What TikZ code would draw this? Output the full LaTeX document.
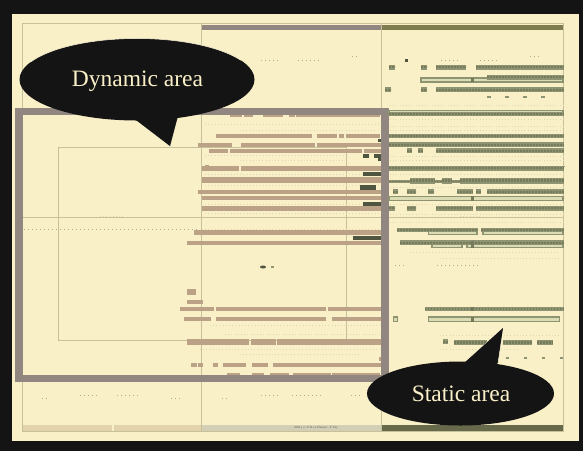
\documentclass[tikz,border=0pt]{standalone}
\usepackage{fontspec}
\setmainfont{Liberation Serif}
\definecolor{ink}{HTML}{141414}
\definecolor{paper}{HTML}{FAF0C8}
\definecolor{hair}{HTML}{C6C19B}
\definecolor{mauve}{HTML}{918680}
\definecolor{tanbar}{HTML}{BBA287}
\definecolor{gbar}{HTML}{8E9372}
\definecolor{gdark}{HTML}{747A5A}
\definecolor{gblob}{HTML}{4F5540}
\definecolor{glight}{HTML}{DCDCB4}
\definecolor{faint}{HTML}{DDD8B4}
\definecolor{oliveband}{HTML}{7F7D4F}
\definecolor{tanfoot}{HTML}{E3D3AD}
\definecolor{greyfoot}{HTML}{D3CFB5}
\definecolor{darkfoot}{HTML}{66694A}
\tikzset{
  x=1pt,y=-1pt,
  hairline/.style={draw=hair,line width=.8pt},
  faintdots/.style={draw=faint,line width=1pt,dash pattern=on 1pt off 2.2pt},
  faintdotsb/.style={draw=faint!80!black,line width=1pt,dash pattern=on 1pt off 3pt},
  bubble/.style={fill=ink,draw=paper!70!white,line width=.5pt},
  bubbletext/.style={text=paper,font=\fontsize{23.5}{26}\selectfont,inner sep=0pt},
}
% tan bar: y, height, x1, x2
\newcommand{\tbar}[4]{\fill[tanbar] (#3,#1-#2/2-.2) rectangle (#4,#1+#2/2+.2);}
% textured green bar
\newcommand{\gb}[4]{\fill[gbar] (#3,#1-#2/2-.3) rectangle (#4,#1+#2/2+.3);
  \draw[gdark,line width=#2*.5pt,dash pattern=on 1.6pt off 1.4pt] (#3,#1) -- (#4,#1);}
% hollow green bar: y1, y2, x1, x2
\newcommand{\gh}[4]{\draw[gbar,fill=glight,line width=1.2pt] (#3,#1) rectangle (#4,#2);}
\newcommand{\blob}[4]{\fill[gblob] (#3,#1) rectangle (#4,#2);}
\begin{document}
\begin{tikzpicture}
\useasboundingbox (0,0) rectangle (583,451);
\fill[ink] (0,0) rectangle (583,451);
\fill[paper] (12,14) rectangle (578.5,441);
% thin frame
\draw[hairline] (22.5,23) rectangle (563,431);
\draw[hairline] (201.5,23) -- (201.5,431);
\draw[hairline] (381,23) -- (381,431);
\draw[hairline] (22.5,217) -- (563,217);
\draw[hairline] (58,147.5) rectangle (346,340.5);
% header and footer bars
\fill[mauve] (202,24.5) rectangle (381,30);
\fill[oliveband] (382,24.5) rectangle (563,30);
\fill[tanfoot] (22.5,425) rectangle (112,431);
\fill[tanfoot] (113.5,425) rectangle (201,431);
\fill[greyfoot] (202,425) rectangle (381,431);
\fill[darkfoot] (382,425) rectangle (563,431);
\node[font=\fontsize{3}{3}\selectfont,text=ink!70,inner sep=0pt,anchor=west] (foot) at (294,427.8) {2009 a u : P: B a a Pleasure . P: Pay};
% faint dot rows
\foreach \a/\b/\yy in {202/380/229.5, 390/563/105, 390/563/119, 390/563/126, 390/563/130, 390/563/156, 390/563/160, 390/563/174, 390/563/187, 390/563/204, 390/563/214, 390/563/222, 410/560/252, 440/560/258, 440/560/335, 440/520/349, 205/345/155, 240/345/160, 205/380/174, 205/380/185, 205/380/204, 205/380/213, 205/380/124, 240/380/130, 210/380/325, 225/380/334, 200/380/349, 240/360/354, 100/123/216, 460/480/216}
  {\draw[faintdots] (\a,\yy) -- (\b,\yy);}
\foreach \a/\b/\yy in {24/200/229.5, 261/280/60, 298/321/60, 352/360/56, 441/460/60, 480/500/60, 530/540/56, 42/50/398, 80/100/395, 117/141/395, 171/180/398, 222/230/398, 261/280/395, 292/321/395, 351/360/395, 437/479/265, 395/405/265}
  {\draw[faintdotsb] (\a,\yy) -- (\b,\yy);}
% tan bars, upper
\foreach \a/\b in {216/312,317/337,339/344,346/380} {\tbar{136}{4}{\a}{\b}}
\foreach \a/\b in {198/232,241/315,317/382} {\tbar{145}{4}{\a}{\b}}
\foreach \a/\b in {209/228,230/362,364/382} {\tbar{150.7}{4}{\a}{\b}}
\foreach \a/\b in {202/239,241/382} {\tbar{168.5}{4}{\a}{\b}}
\fill[tanbar] (205,165) rectangle (209,167);
\tbar{180}{6}{202}{382}
\tbar{191.7}{4}{198}{382}
\tbar{198}{4.5}{202}{382}
\tbar{208.5}{4}{202}{382}
\tbar{232.7}{5}{194}{381}
\tbar{242.7}{4}{187}{381}
\foreach \a/\b in {230/242,244/253,263/283,289/295,296/380} {\tbar{115.5}{2}{\a}{\b}}
% tan bars, lower
\tbar{292}{5}{187}{196}
\tbar{302}{4}{187}{203}
\foreach \a/\b in {180/214,216/326,328/382} {\tbar{308.7}{4}{\a}{\b}}
\foreach \a/\b in {184/211,216/326,332/382} {\tbar{319}{4.5}{\a}{\b}}
\foreach \a/\b in {187/249,251/276,277/382} {\tbar{342}{5.5}{\a}{\b}}
\foreach \a/\b in {191/197,198/203,213/218,223/246,252/268,273/382} {\tbar{365}{4}{\a}{\b}}
\foreach \a/\b in {227/240,252/264,270/289,293/331,332/380} {\tbar{374}{2.5}{\a}{\b}}
\tbar{358.7}{4}{379}{382}
% dark blobs
\blob{154}{157.5}{363}{369}
\blob{154}{158}{374}{382}
\blob{157}{161}{378}{382}
\blob{139}{142}{378}{382}
\blob{171.5}{176}{363}{382}
\blob{185}{190}{360}{376}
\blob{202}{206}{363}{382}
\blob{236}{240}{353}{381}
\fill[gblob] (263,267) ellipse (3 and 1.5);
\fill[gbar] (271,266) rectangle (274,268);
% thick dynamic frame
\draw[mauve,line width=7.5pt] (19,111.5) rectangle (385,378.5);
% right-hand rows
\foreach \a/\b in {389/395,421/427,436/466,476/563.5} {\gb{67.3}{4}{\a}{\b}}
\fill[gblob] (404.5,58.5) rectangle (408,62);
\gh{78}{82}{421}{472}
\gh{78}{82}{472}{563}
\gb{77.3}{4}{487}{563.5}
\fill[gdark] (471,77.5) rectangle (474,82);
\foreach \a/\b in {385/391,421/427,436/563.5} {\gb{89.7}{4}{\a}{\b}}
\foreach \a in {489,507,525,543} {\fill[gbar] (\a-2,95.5) rectangle (\a+2,97.5);}
\gh{110.5}{115.5}{389}{563}
\gb{114}{3.5}{389}{563.5}
\gb{136}{4}{389}{563.5}
\gb{144.7}{4}{389}{563.5}
\foreach \a/\b in {407/412,418/423,436/563.5} {\gb{150.7}{4}{\a}{\b}}
\gb{168.3}{4}{389}{563.5}
\foreach \a in {452,470,490,497,512,516,545,562} {\fill[gbar] (\a-2.5,165.5) rectangle (\a+2.5,167);}
\gb{181.5}{3}{389}{563.5}
\foreach \a/\b in {410/435,442/452,460/563.5} {\gb{180.7}{5}{\a}{\b}}
\foreach \a/\b in {393/398,407/416,428/434,457/473,476/481,487/563.5} {\gb{191.7}{4}{\a}{\b}}
\gh{196.5}{200.5}{389}{563}
\fill[gdark] (471,195.5) rectangle (474,200.5);
\foreach \a/\b in {389/395,407/416,436/473,476/563.5} {\gb{208.3}{4}{\a}{\b}}
\gh{228.5}{234.5}{428.5}{477}
\gh{228.5}{234.5}{483}{563}
\foreach \a/\b in {397/478,481/563.5} {\gb{230}{4}{\a}{\b}}
\gh{242.5}{247.5}{432}{462}
\gh{242}{247.5}{467}{563}
\gb{242.5}{4}{400}{563.5}
\fill[gdark] (471,241) rectangle (474,247.5);
\gb{309}{4}{424.7}{563.5}
\fill[gdark] (471,307) rectangle (474,311);
\gh{317}{321.5}{428.7}{559.5}
\fill[gdark] (471,316.5) rectangle (474,322);
\gh{317}{321.5}{393.5}{397.5}
\gb{341.5}{4}{443}{448}
\foreach \a/\b in {454/487,503/532,537/553} {\gb{342.5}{5}{\a}{\b}}
\foreach \a in {507,525,543,561} {\fill[gbar] (\a-1.5,357) rectangle (\a+1.5,359);}
% callouts
\draw[bubble] (135,119) -- (170,146) -- (177,118);
\fill[ink] (137,79.5) ellipse (117.5 and 41);
\draw[paper!70!white,line width=.5pt] (137,79.5) ++(205:117.5 and 41) arc (205:332:117.5 and 41);
\fill[ink] (132,117) -- (170,146) -- (178,116) -- cycle;
\node[bubbletext] (dyn) at (137.5,81.5) {Dynamic area};
\draw[bubble] (464,363) -- (503,328) -- (498,363);
\fill[ink] (460.5,393.5) ellipse (93.5 and 32);
\fill[ink] (462,365) -- (503,328) -- (497,365) -- cycle;
\node[bubbletext] (sta) at (461,394) {Static area};
\end{tikzpicture}
\end{document}
